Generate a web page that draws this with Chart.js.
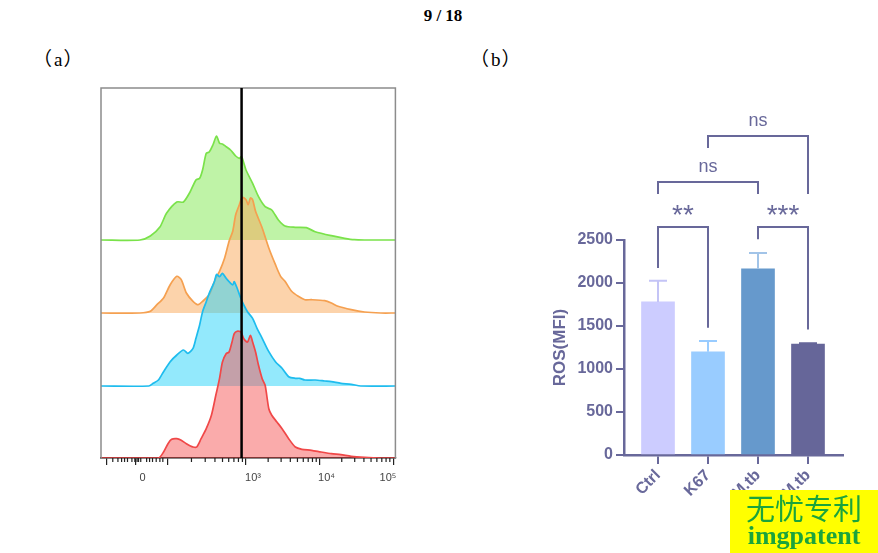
<!DOCTYPE html>
<html>
<head>
<meta charset="utf-8">
<script src="https://cdn.jsdelivr.net/npm/chart.js@4.4.1/dist/chart.umd.min.js"></script>
<style>
  html, body { margin: 0; padding: 0; background: #fff; }
  #page { position: relative; width: 878px; height: 553px; overflow: hidden; }
  .abs { position: absolute; }
  #pageNo { left: 0; width: 886px; top: 6px; text-align: center; font: bold 17px "Liberation Serif", serif; color: #000; }
  .panel { font: 19px "Liberation Serif", serif; color: #000; line-height: 22px; white-space: nowrap; }
  .panel .p { font-family: "Noto Sans CJK SC", sans-serif; }
  .panel .t { margin: 0 1px 0 2px; }
  #lblA { left: 33px; top: 47px; }
  #lblB { left: 470px; top: 47px; }
  #chartA { left: 60px; top: 80px; }
  #chartB { left: 540px; top: 100px; }
  #mark { left: 730px; top: 490px; width: 148px; height: 63px; background: #ffff00; color: #1ba43c; text-align: center; }
  #mark .cn { font: 29px "Noto Sans CJK SC", sans-serif; line-height: 32px; margin-top: 1px; }
  #mark .en { font: bold 26px "Liberation Serif", serif; line-height: 26px; }
</style>
</head>
<body>
<div id="page">
  <div id="pageNo" class="abs">9 / 18</div>
  <div id="lblA" class="abs panel"><span class="p">（</span><span class="t">a</span><span class="p">）</span></div>
  <div id="lblB" class="abs panel"><span class="p">（</span><span class="t">b</span><span class="p">）</span></div>
  <canvas id="chartA" class="abs" width="360" height="420"></canvas>
  <canvas id="chartB" class="abs" width="338" height="453"></canvas>
  <div id="mark" class="abs"><div class="cn">无忧专利</div><div class="en">imgpatent</div></div>
</div>
<script>
// ---- (a) histogram data, x in log display units (3 = 10^3)
const redX = [1.03,1.81,1.88,1.94,1.99,2.06,2.12,2.19,2.28,2.33,2.39,2.46,2.53,2.59,2.64,2.68,2.73,2.77,2.81,2.84,2.88,2.93,2.97,3.02,3.06,3.09,3.13,3.17,3.22,3.26,3.31,3.35,3.42,3.49,3.58,3.67,3.76,3.89,4.02,4.16,4.29,4.43,4.61,4.83,5.03];
const redY = [0,0,6,14.3,18.7,19.3,17.7,14.3,11,11,19.3,29.3,42.7,62.7,79.3,96,104.3,106,116,124.3,126.7,126,119.3,116,122.7,116,106,92.7,79.3,72.7,49.3,42.7,36,29.3,19.3,11,8.7,7.7,6,4.3,3.3,1.7,0.7,0,0];
const blueX = [1.03,1.68,1.74,1.81,1.88,1.97,2.06,2.15,2.21,2.28,2.32,2.37,2.41,2.46,2.50,2.57,2.60,2.64,2.68,2.73,2.77,2.82,2.84,2.88,2.93,2.97,3.02,3.09,3.15,3.22,3.31,3.40,3.49,3.58,3.67,3.73,3.80,3.94,4.07,4.16,4.29,4.43,4.56,5.03];
const blueY = [0,0,2.7,6,14.3,24.3,31,36,32.7,37.7,47.7,61,74.3,84.3,92.7,104.3,111.7,109.3,112.7,107.7,104.3,101,104.3,97.7,87.7,81,74.3,67.7,57.7,47.7,34.3,24.3,17.7,9.3,7.7,7.7,6,6,5,4.3,2.7,1.7,0,0];
const orangeX = [1.03,1.56,1.70,1.79,1.88,1.97,2.06,2.12,2.19,2.28,2.35,2.41,2.50,2.59,2.64,2.71,2.77,2.82,2.86,2.91,2.95,3.00,3.03,3.06,3.09,3.13,3.22,3.31,3.40,3.47,3.53,3.62,3.71,3.80,3.89,4.07,4.16,4.25,4.43,4.61,4.83,5.03];
const orangeY = [0,0,1.7,8.3,15,28.3,36.7,33.3,20,11.7,8.3,11.7,18.3,35,41.7,55,71.7,81.7,98.3,108.3,115.7,113.3,108.3,115,113.3,101.7,85,65,48.3,36.7,31.7,21.7,16.7,13.3,13.3,12.3,10,6.7,3.3,1,0,0];
const greenX = [1.03,1.56,1.70,1.83,1.92,2.06,2.15,2.24,2.32,2.37,2.41,2.46,2.50,2.55,2.60,2.64,2.68,2.73,2.79,2.86,2.91,2.94,3.00,3.09,3.17,3.26,3.35,3.44,3.53,3.67,3.82,3.94,4.16,4.34,4.47,4.61,5.03];
const greenY = [0,0,4,13,26.7,38,38,48,60,61.7,70,86.7,88,95,104,96.7,96,93.3,90,84,81.7,83.3,70,56.7,43.3,33.3,30,20,14,12.7,12.3,8.3,4.3,1.7,0.3,0,0];
const gateValue = 2.94;
const histTickValues = [1.11, 1.5, 1.94, 3, 4, 5];
const histTickLabels = ['', '0', '', '10³', '10⁴', '10⁵\u2007\u2007\u2007\u2007'];

// ---- (b) bar data
const barCategories = ['Ctrl', 'K67', 'M.tb', 'K67+M.tb'];
const rosMean = [1780, 1200, 2165, 1290];
const rosSD = [245, 125, 185, 10];
const rosTicks = [0, 500, 1000, 1500, 2000, 2500];
const comparisons = [
  { a: 0, b: 1, label: '**', top: 2650, endA: 2175, endB: 1480 },
  { a: 2, b: 3, label: '***', top: 2650, endA: 2510, endB: 1460 },
  { a: 0, b: 2, label: 'ns', top: 3175, endA: 3035, endB: 3035 },
  { a: 1, b: 3, label: 'ns', top: 3710, endA: 3570, endB: 3035 }
];

const ink = '#68689a';
const sans = "'Liberation Sans', Arial, sans-serif";

// lanes drawn bottom-up, first dataset ends on top
const lanes = [
  { xs: redX, ys: redY, offset: 0, line: 'rgb(240,72,72)', fill: 'rgba(245,88,88,0.5)' },
  { xs: blueX, ys: blueY, offset: 72, line: 'rgb(30,188,238)', fill: 'rgba(40,212,250,0.5)' },
  { xs: orangeX, ys: orangeY, offset: 145, line: 'rgb(245,160,80)', fill: 'rgba(250,168,88,0.5)' },
  { xs: greenX, ys: greenY, offset: 218, line: 'rgb(122,226,74)', fill: 'rgba(128,232,80,0.5)' }
];

const histDecor = {
  id: 'histDecor',
  afterDatasetsDraw(chart) {
    const { ctx, chartArea: a, scales: { x } } = chart;
    ctx.save();
    // frame
    ctx.strokeStyle = '#8c8c8c';
    ctx.lineWidth = 1.5;
    ctx.beginPath();
    ctx.moveTo(a.left, a.bottom); ctx.lineTo(a.left, a.top);
    ctx.lineTo(a.right, a.top); ctx.lineTo(a.right, a.bottom);
    ctx.stroke();
    // gate line
    const gx = x.getPixelForValue(gateValue);
    ctx.strokeStyle = '#000';
    ctx.lineWidth = 2.5;
    ctx.beginPath(); ctx.moveTo(gx, a.top); ctx.lineTo(gx, a.bottom); ctx.stroke();
    // minor ticks
    const minors = [1.19,1.26,1.31,1.35,1.39,1.45,1.49,1.52,1.54,1.57,1.65,1.69,1.73,1.78,1.83,1.87];
    for (let k = 2; k < 10; k++) {
      minors.push(1.94 + 1.06 * Math.log10(k), 3 + Math.log10(k), 4 + Math.log10(k));
    }
    ctx.strokeStyle = '#222';
    ctx.lineWidth = 1.2;
    ctx.beginPath();
    minors.forEach(v => {
      const px = x.getPixelForValue(v);
      ctx.moveTo(px, a.bottom); ctx.lineTo(px, a.bottom + 4);
    });
    ctx.stroke();
    ctx.restore();
  }
};

new Chart(document.getElementById('chartA'), {
  type: 'line',
  data: {
    datasets: lanes.map(l => ({
      data: l.xs.map((v, i) => ({ x: v, y: l.offset + l.ys[i] })),
      borderColor: l.line,
      backgroundColor: l.fill,
      borderWidth: 1.7,
      fill: { value: l.offset },
      tension: 0.25,
      pointRadius: 0
    }))
  },
  options: {
    responsive: false,
    animation: false,
    layout: { padding: { left: 41, right: 22, top: 8, bottom: 0 } },
    plugins: { legend: { display: false }, tooltip: { enabled: false } },
    scales: {
      x: {
        type: 'linear', min: 1.03, max: 5.03,
        afterBuildTicks: s => { s.ticks = histTickValues.map(v => ({ value: v })); },
        afterFit: s => { s.height = 42; },
        grid: { drawOnChartArea: false, color: '#222', lineWidth: 1.2, tickLength: 7 },
        border: { color: '#111', width: 1.5 },
        ticks: {
          autoSkip: false, maxRotation: 0, labelOffset: 7, padding: 6,
          color: '#444', font: { family: sans, size: 11 },
          callback: (v, i) => histTickLabels[i]
        }
      },
      y: { display: false, min: 0, max: 370 }
    }
  },
  plugins: [histDecor]
});

const errColors = ['#c4c4f6', '#99ccff', '#a2c4e8', '#666699'];
const barColors = ['#ccccff', '#99ccff', '#6699cc', '#666699'];

const sigMarks = {
  id: 'sigMarks',
  afterDatasetsDraw(chart) {
    const { ctx, scales: { x, y } } = chart;
    ctx.save();
    ctx.lineWidth = 2;
    rosMean.forEach((m, i) => {
      const cx = x.getPixelForValue(i);
      const base = y.getPixelForValue(m);
      const top = y.getPixelForValue(m + rosSD[i]);
      ctx.strokeStyle = errColors[i];
      ctx.beginPath();
      ctx.moveTo(cx, base); ctx.lineTo(cx, top);
      ctx.moveTo(cx - 9, top); ctx.lineTo(cx + 9, top);
      ctx.stroke();
    });
    ctx.strokeStyle = ink;
    ctx.fillStyle = ink;
    ctx.textAlign = 'center';
    ctx.textBaseline = 'alphabetic';
    comparisons.forEach(c => {
      const xa = x.getPixelForValue(c.a), xb = x.getPixelForValue(c.b);
      const yt = y.getPixelForValue(c.top);
      ctx.beginPath();
      ctx.moveTo(xa, y.getPixelForValue(c.endA));
      ctx.lineTo(xa, yt); ctx.lineTo(xb, yt);
      ctx.lineTo(xb, y.getPixelForValue(c.endB));
      ctx.stroke();
      const cy = yt - 15;
      if (c.label === 'ns') {
        ctx.font = '18px ' + sans;
        ctx.fillText(c.label, (xa + xb) / 2, cy + 5);
      } else {
        ctx.font = '28px ' + sans;
        ctx.fillText(c.label, (xa + xb) / 2, cy + 12);
      }
    });
    ctx.restore();
  }
};

new Chart(document.getElementById('chartB'), {
  type: 'bar',
  data: {
    datasets: [{
      data: rosMean.map((v, i) => ({ x: i, y: v })),
      backgroundColor: barColors,
      borderWidth: 0,
      barThickness: 33
    }]
  },
  options: {
    responsive: false,
    animation: false,
    layout: { padding: { left: 0, right: 35, top: 140, bottom: 0 } },
    plugins: { legend: { display: false }, tooltip: { enabled: false } },
    scales: {
      x: {
        type: 'linear', min: -0.68, max: 3.7, offset: false,
        afterBuildTicks: s => { s.ticks = barCategories.map((_, i) => ({ value: i })); },
        afterFit: s => { s.height = 98; },
        grid: { offset: false, drawOnChartArea: false, color: ink, lineWidth: 2, tickLength: 9 },
        border: { color: ink, width: 2.5 },
        ticks: {
          autoSkip: false, minRotation: 45, maxRotation: 45, padding: 2,
          color: ink, font: { family: sans, size: 16, weight: 'bold' },
          callback: v => barCategories[v]
        }
      },
      y: {
        min: 0, max: 2500,
        afterBuildTicks: s => { s.ticks = rosTicks.map(v => ({ value: v })); },
        afterFit: s => { s.width = 84; },
        grid: { drawOnChartArea: false, color: ink, lineWidth: 2, tickLength: 8 },
        border: { color: ink, width: 2.5 },
        ticks: {
          padding: 3, color: ink, font: { family: sans, size: 16, weight: 'bold' },
          callback: v => String(v)
        },
        title: {
          display: true, text: 'ROS(MFI)', color: ink, padding: { top: 10 },
          font: { family: sans, size: 17, weight: 'bold' }
        }
      }
    }
  },
  plugins: [sigMarks]
});
</script>
</body>
</html>
